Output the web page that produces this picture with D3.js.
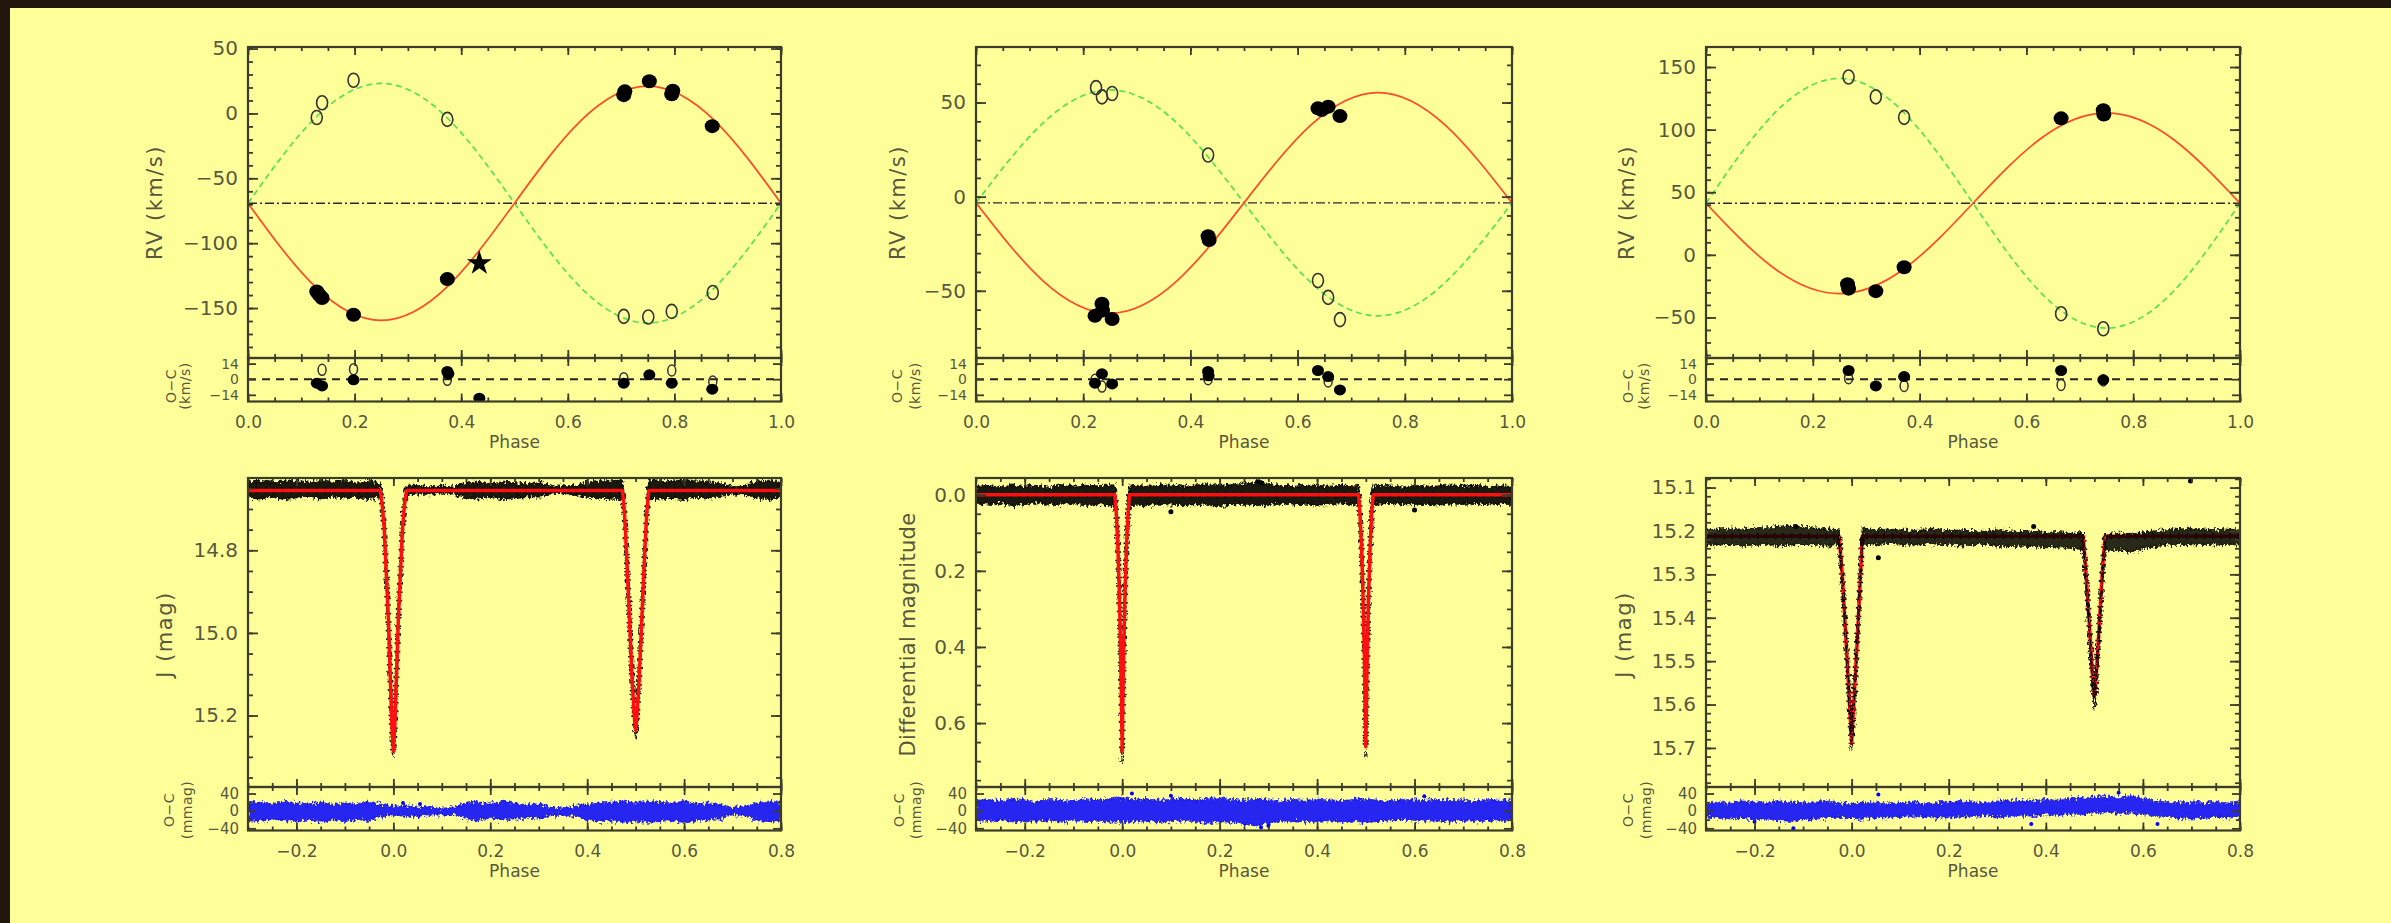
<!DOCTYPE html>
<html><head><meta charset="utf-8">
<script src="https://cdn.jsdelivr.net/npm/d3@7"></script>
<style>
html,body{margin:0;padding:0;background:#ffff99;}
svg{display:block}
</style></head><body><svg id="c" width="2391" height="923"></svg>
<script>
// ================= DATA =================
// --- Radial-velocity panels (top row) ---
const rvCurvePhase = [0, 0.125, 0.25, 0.375, 0.5, 0.625, 0.75, 0.875, 1];
const rvTickMajorX = [0, 0.2, 0.4, 0.6, 0.8, 1.0];
const rvResTicks = [-14, 0, 14];
const rvResDomain = [-20, 19];

// system 1
const rv1Primary   = [-69.2, -133.1, -159.5, -133.1, -69.2, -5.3, 21.1, -5.3, -69.2];
const rv1Secondary = [-69.2, -3.9, 23.1, -3.9, -69.2, -134.5, -161.5, -134.5, -69.2];
const rv1Gamma = -69.2;
const rv1PrimPhase = [0.129, 0.134, 0.139, 0.198, 0.374, 0.705, 0.707, 0.753, 0.795, 0.797, 0.871];
const rv1PrimVel   = [-137.2, -140, -142.3, -155.2, -127.7, 14.1, 17, 24.8, 14.8, 17.5, -9.8];
const rv1SecPhase  = [0.129, 0.139, 0.198, 0.374, 0.705, 0.751, 0.795, 0.872];
const rv1SecVel    = [-3.1, 8.2, 25.6, -4.6, -156.4, -156.9, -152.6, -138];
const rv1StarPhase = [0.434];
const rv1StarVel   = [-115.4];
const rv1PrimResPhase = [0.129, 0.139, 0.198, 0.374, 0.376, 0.434, 0.705, 0.753, 0.795, 0.871];
const rv1PrimRes      = [-3.6, -6, -0.6, 6.9, 4.8, -17, -3.6, 3.9, -3.6, -9];
const rv1SecResPhase  = [0.139, 0.198, 0.374, 0.705, 0.795, 0.872];
const rv1SecRes       = [8.4, 9, -0.6, 0.9, 7.8, -2.1];
const rv1YTicks = [-150, -100, -50, 0, 50];

// system 2
const rv2Primary   = [-3.3, -44.7, -61.9, -44.7, -3.3, 38.1, 55.3, 38.1, -3.3];
const rv2Secondary = [-3.3, 39.1, 56.7, 39.1, -3.3, -45.7, -63.3, -45.7, -3.3];
const rv2Gamma = -3.3;
const rv2PrimPhase = [0.222, 0.235, 0.236, 0.254, 0.433, 0.435, 0.638, 0.645, 0.657, 0.679];
const rv2PrimVel   = [-63.3, -56.9, -60.5, -65, -21, -23, 46.9, 46, 47.8, 42.8];
const rv2SecPhase  = [0.224, 0.235, 0.254, 0.433, 0.638, 0.657, 0.679];
const rv2SecVel    = [57.9, 53, 54.8, 22.1, -44.5, -53.5, -65.3];
const rv2PrimResPhase = [0.222, 0.235, 0.254, 0.433, 0.434, 0.638, 0.657, 0.679];
const rv2PrimRes      = [-3.6, 4.8, -4.2, 6.9, 3, 7.8, 2.4, -9.6];
const rv2SecResPhase  = [0.222, 0.235, 0.433, 0.657];
const rv2SecRes       = [-0.6, -6.6, 0, -2.1];
const rv2YTicks = [-50, 0, 50];

// system 3
const rv3Primary   = [41.2, -9.9, -31.0, -9.9, 41.2, 92.3, 113.4, 92.3, 41.2];
const rv3Secondary = [41.2, 111.7, 140.9, 111.7, 41.2, -29.3, -58.5, -29.3, 41.2];
const rv3Gamma = 41.2;
const rv3PrimPhase = [0.265, 0.267, 0.318, 0.371, 0.665, 0.744, 0.745];
const rv3PrimVel   = [-23.5, -27, -29, -9.9, 109, 115.5, 112];
const rv3SecPhase  = [0.267, 0.318, 0.371, 0.665, 0.744];
const rv3SecVel    = [142, 126.2, 109.8, -47, -59];
const rv3PrimResPhase = [0.267, 0.318, 0.371, 0.665, 0.744];
const rv3PrimRes      = [7.8, -6, 2.4, 7.8, -0.6];
const rv3SecResPhase  = [0.267, 0.371, 0.665, 0.744];
const rv3SecRes       = [0.9, -6, -5.1, -1.2];
const rv3YTicks = [-50, 0, 50, 100, 150];

// --- Light-curve panels (bottom row) ---
const lcTickMajorX = [-0.2, 0.0, 0.2, 0.4, 0.6, 0.8];
const lcResTicks = [-40, 0, 40];
const lcResDomain = [-45, 55];
// phases at which the scatter envelope (mmag) was read
const lcEnvPhase = [-0.3,-0.275,-0.25,-0.225,-0.2,-0.175,-0.15,-0.125,-0.1,-0.075,-0.05,-0.025,0,0.025,0.05,0.075,0.1,0.125,0.15,0.175,0.2,0.225,0.25,0.275,0.3,0.325,0.35,0.375,0.4,0.425,0.45,0.475,0.5,0.525,0.55,0.575,0.6,0.625,0.65,0.675,0.7,0.725,0.75,0.775,0.8];

// system 1 (J)
const lc1ModelPhase = [-0.3,-0.027,-0.023,-0.019,-0.0105,-0.003,0,0.003,0.0105,0.019,0.023,0.027,0.473,0.477,0.481,0.487,0.493,0.498,0.5,0.502,0.507,0.513,0.519,0.523,0.527,0.8];
const lc1ModelMag   = [14.655,14.655,14.69,14.745,14.96,15.225,15.287,15.225,14.96,14.745,14.69,14.655,14.655,14.71,14.80,14.96,15.12,15.215,15.235,15.215,15.12,14.96,14.80,14.71,14.655,14.655];
const lc1EnvHi = [18,20,16,22,18,16,20,15,18,16,22,14,10,12,8,10,6,8,18,20,16,22,18,14,16,8,6,10,16,18,20,22,18,22,20,18,22,16,18,14,8,10,18,22,16];
const lc1EnvLo = [-22,-24,-20,-22,-24,-19,-26,-20,-24,-19,-24,-14,-8,-12,-12,-8,-10,-8,-18,-20,-16,-20,-18,-16,-18,-10,-10,-12,-20,-24,-22,-26,-24,-26,-24,-22,-26,-22,-20,-18,-8,-10,-22,-24,-20];
const lc1YTicks = [14.8, 15.0, 15.2];
const lc1YDomain = [14.625, 15.373];
const lc1OutPhase = [], lc1OutMag = [];
const lc1ResOutPhase = [0.02, 0.055], lc1ResOut = [18, 16];

// system 2 (differential magnitude)
const lc2ModelPhase = [-0.3,-0.015,-0.012,-0.009,-0.006,-0.003,-0.001,0,0.001,0.003,0.006,0.009,0.012,0.015,0.485,0.488,0.491,0.494,0.497,0.499,0.5,0.501,0.503,0.506,0.509,0.512,0.515,0.8];
const lc2ModelMag   = [0,0,0.05,0.13,0.25,0.42,0.58,0.675,0.58,0.42,0.25,0.13,0.05,0,0,0.05,0.13,0.25,0.42,0.57,0.662,0.57,0.42,0.25,0.13,0.05,0,0];
const lc2EnvHi = [24,26,22,28,25,20,26,24,22,27,25,28,30,26,28,24,26,28,25,27,30,26,24,28,25,22,26,24,27,25,23,26,28,24,22,26,25,24,26,23,25,22,26,24,25];
const lc2EnvLo = [-22,-24,-20,-25,-22,-24,-20,-26,-22,-24,-23,-25,-26,-24,-22,-26,-24,-22,-25,-28,-24,-26,-30,-34,-28,-24,-22,-25,-24,-22,-25,-23,-26,-24,-22,-20,-24,-22,-23,-25,-22,-24,-21,-23,-22];
const lc2YTicks = [0.0, 0.2, 0.4, 0.6];
const lc2YDomain = [-0.044, 0.768];
const lc2OutPhase = [0.28, 0.287, 0.1, 0.6], lc2OutMag = [-0.034, -0.03, 0.045, 0.04];
const lc2ResOutPhase = [0.285, 0.3, 0.02, 0.1, 0.62], lc2ResOut = [-38, -34, 40, 35, 34];

// system 3 (J)
const lc3ModelPhase = [-0.3,-0.026,-0.019,-0.0105,-0.003,0,0.003,0.0105,0.017,0.022,0.477,0.483,0.490,0.496,0.5,0.504,0.510,0.516,0.522,0.8];
const lc3ModelMag   = [15.212,15.212,15.305,15.474,15.628,15.69,15.628,15.474,15.33,15.212,15.212,15.30,15.42,15.53,15.582,15.53,15.42,15.30,15.212,15.212];
const lc3EnvHi = [18,20,18,22,20,18,22,20,18,20,22,18,16,18,20,16,18,20,16,18,20,22,20,18,22,24,22,24,26,24,28,30,32,34,30,36,28,24,20,18,20,18,20,18,20];
const lc3EnvLo = [-14,-16,-18,-16,-20,-18,-22,-24,-20,-18,-16,-14,-16,-18,-14,-16,-14,-12,-14,-16,-12,-14,-12,-10,-14,-12,-10,-12,-8,-10,-6,-8,-4,-2,-6,-4,-8,-12,-14,-16,-18,-16,-14,-16,-14];
const lc3YTicks = [15.1, 15.2, 15.3, 15.4, 15.5, 15.6, 15.7];
const lc3YDomain = [15.078, 15.79];
const lc3OutPhase = [0.698, 0.055, 0.375, -0.115], lc3OutMag = [15.085, 15.262, 15.19, 15.19];
const lc3ResOutPhase = [-0.12, 0.055, 0.37, 0.55, -0.2, 0.63], lc3ResOut = [-40, 38, -30, 42, -25, -30];

// ================= LAYOUT / STYLE =================
const FONT = '"DejaVu Sans", "Liberation Sans", sans-serif';
const TXT = '#58583e';
const AX = '#3c3c2a';
const colX = [[248, 781], [976, 1512], [1706, 2240]];
const TOP = {main: [47, 358], res: [358, 401.5]};
const BOT = {main: [478, 787], res: [787, 830.5]};

const svg = d3.select('#c');
const defs = svg.append('defs');
// edge-roughening texture for the dense scatter bands (style only)
const flt = defs.append('filter').attr('id', 'rough')
  .attr('x', '-2%').attr('y', '-60%').attr('width', '104%').attr('height', '220%');
flt.append('feTurbulence').attr('type', 'fractalNoise').attr('baseFrequency', '0.45 0.3')
  .attr('numOctaves', 2).attr('seed', 7).attr('result', 'n');
flt.append('feDisplacementMap').attr('in', 'SourceGraphic').attr('in2', 'n').attr('scale', 9)
  .attr('xChannelSelector', 'R').attr('yChannelSelector', 'G');

svg.append('rect').attr('width', 2391).attr('height', 923).attr('fill', '#ffff99');
svg.append('rect').attr('x', 0).attr('y', 0).attr('width', 2391).attr('height', 8).attr('fill', '#22170c');
svg.append('rect').attr('x', 0).attr('y', 0).attr('width', 10).attr('height', 923).attr('fill', '#22170c');

const stepRange = (a, b, s) => d3.range(Math.round((b - a) / s) + 1).map(i => +(a + i * s).toFixed(5));

let clipN = 0;
function clip(x0, y0, x1, y1) {
  const id = 'cl' + (clipN++);
  defs.append('clipPath').attr('id', id).append('rect')
    .attr('x', x0).attr('y', y0).attr('width', x1 - x0).attr('height', y1 - y0);
  return `url(#${id})`;
}

function frameAxes(xs, ys, o) {
  const [x0, x1] = xs.range();
  const yb = Math.max(...ys.range()), yt = Math.min(...ys.range());
  const g = svg.append('g');
  const add = (axis, tx, ty) => {
    const a = g.append('g').attr('transform', `translate(${tx},${ty})`).call(axis);
    a.select('.domain').remove();
    return a;
  };
  const none = () => '';
  const l = add(d3.axisLeft(ys).tickValues(o.yMajor).tickSize(-o.yLen).tickSizeOuter(0)
      .tickPadding(o.yPad).tickFormat(o.yFmt), x0, 0);
  l.selectAll('text').attr('font-size', o.yFont).attr('font-family', FONT).attr('fill', TXT);
  add(d3.axisRight(ys).tickValues(o.yMajor).tickSize(-o.yLen).tickFormat(none), x1, 0);
  if (o.yMinor) {
    add(d3.axisLeft(ys).tickValues(o.yMinor).tickSize(-o.yLen / 2).tickFormat(none), x0, 0);
    add(d3.axisRight(ys).tickValues(o.yMinor).tickSize(-o.yLen / 2).tickFormat(none), x1, 0);
  }
  add(d3.axisTop(xs).tickValues(o.xMajor).tickSize(-o.xLen).tickFormat(none), 0, yt);
  add(d3.axisTop(xs).tickValues(o.xMinor).tickSize(-o.xLen / 2).tickFormat(none), 0, yt);
  const b = add(d3.axisBottom(xs).tickValues(o.xMajor).tickSize(-o.xLen).tickPadding(14)
      .tickFormat(o.xFmt || none), 0, yb);
  b.selectAll('text').attr('font-size', 17).attr('font-family', FONT).attr('fill', TXT);
  add(d3.axisBottom(xs).tickValues(o.xMinor).tickSize(-o.xLen / 2).tickFormat(none), 0, yb);
  g.selectAll('.tick line').attr('stroke', AX).attr('stroke-width', 1.8);
  g.append('rect').attr('x', x0).attr('y', yt).attr('width', x1 - x0).attr('height', yb - yt)
    .attr('fill', 'none').attr('stroke', AX).attr('stroke-width', 2.2);
}

function vLabel(cx, cy, txt, size, ls) {
  svg.append('text').attr('transform', `translate(${cx},${cy}) rotate(-90)`)
    .attr('text-anchor', 'middle').attr('dominant-baseline', 'central')
    .attr('font-family', FONT).attr('font-size', size).attr('letter-spacing', ls)
    .attr('fill', TXT).text(txt);
}

// ================= RV PANELS =================
function rvPanel(ci, c) {
  const [xl, xr] = colX[ci];
  const x = d3.scaleLinear().domain([0, 1]).range([xl, xr]);
  const y = d3.scaleLinear().domain(c.yDomain).range([TOP.main[1], TOP.main[0]]);
  const yr = d3.scaleLinear().domain(rvResDomain).range([TOP.res[1], TOP.res[0]]);
  const gm = svg.append('g').attr('clip-path', clip(xl, TOP.main[0], xr, TOP.main[1]));
  gm.append('line').attr('x1', x(0)).attr('x2', x(1)).attr('y1', y(c.gamma)).attr('y2', y(c.gamma))
    .attr('stroke', '#2a2a2a').attr('stroke-width', 1.4).attr('stroke-dasharray', '9,3,2,3');
  const line = d3.line().curve(d3.curveNatural).x((d, i) => x(rvCurvePhase[i])).y(d => y(d));
  gm.append('path').datum(c.sec).attr('d', line).attr('fill', 'none')
    .attr('stroke', '#55e055').attr('stroke-width', 1.7).attr('stroke-dasharray', '6,4');
  gm.append('path').datum(c.prim).attr('d', line).attr('fill', 'none')
    .attr('stroke', '#ff4a2a').attr('stroke-width', 1.7);
  gm.append('g').selectAll('ellipse').data(d3.zip(c.secPhase, c.secVel)).join('ellipse')
    .attr('cx', d => x(d[0])).attr('cy', d => y(d[1])).attr('rx', 5.5).attr('ry', 7)
    .attr('fill', 'none').attr('stroke', '#333').attr('stroke-width', 1.6);
  gm.append('g').selectAll('ellipse').data(d3.zip(c.primPhase, c.primVel)).join('ellipse')
    .attr('cx', d => x(d[0])).attr('cy', d => y(d[1])).attr('rx', 7.5).attr('ry', 7)
    .attr('fill', '#000');
  if (c.starPhase) {
    gm.append('g').selectAll('path').data(d3.zip(c.starPhase, c.starVel)).join('path')
      .attr('transform', d => `translate(${x(d[0])},${y(d[1])})`)
      .attr('d', d3.symbol().type(d3.symbolStar).size(190)).attr('fill', '#000');
  }
  // residuals
  const gr = svg.append('g').attr('clip-path', clip(xl, TOP.res[0], xr, TOP.res[1]));
  gr.append('line').attr('x1', x(0)).attr('x2', x(1)).attr('y1', yr(0)).attr('y2', yr(0))
    .attr('stroke', '#222').attr('stroke-width', 2).attr('stroke-dasharray', '8,6');
  gr.append('g').selectAll('ellipse').data(d3.zip(c.secResPhase, c.secRes)).join('ellipse')
    .attr('cx', d => x(d[0])).attr('cy', d => yr(d[1])).attr('rx', 4).attr('ry', 5.5)
    .attr('fill', 'none').attr('stroke', '#333').attr('stroke-width', 1.5);
  gr.append('g').selectAll('ellipse').data(d3.zip(c.primResPhase, c.primRes)).join('ellipse')
    .attr('cx', d => x(d[0])).attr('cy', d => yr(d[1])).attr('rx', 6).attr('ry', 5.5)
    .attr('fill', '#000');
  const fmtInt = d3.format('d');
  frameAxes(x, y, {xMajor: rvTickMajorX, xMinor: stepRange(0, 1, 0.05), xLen: 8,
    yMajor: c.yTicks, yMinor: c.yMinor, yLen: 10, yPad: 10, yFmt: fmtInt, yFont: 20});
  frameAxes(x, yr, {xMajor: rvTickMajorX, xMinor: stepRange(0, 1, 0.05), xLen: 8,
    yMajor: rvResTicks, yLen: 8, yPad: 9, yFmt: fmtInt, yFont: 14, xFmt: d3.format('.1f')});
  svg.append('text').attr('x', (xl + xr) / 2).attr('y', 448).attr('text-anchor', 'middle')
    .attr('font-family', FONT).attr('font-size', 17).attr('fill', TXT).text('Phase');
  vLabel(xl - c.labOff, (TOP.main[0] + TOP.main[1]) / 2, 'RV (km/s)', 21, 1.5);
  vLabel(xl - c.resOff[0], 386, 'O\u2212C', 14, 0.5);
  vLabel(xl - c.resOff[1], 386, '(km/s)', 14, 0.5);
}

rvPanel(0, {yDomain: [-188.5, 51.2], yTicks: rv1YTicks, yMinor: stepRange(-180, 50, 10), gamma: rv1Gamma,
  prim: rv1Primary, sec: rv1Secondary, primPhase: rv1PrimPhase, primVel: rv1PrimVel,
  secPhase: rv1SecPhase, secVel: rv1SecVel, starPhase: rv1StarPhase, starVel: rv1StarVel,
  primResPhase: rv1PrimResPhase, primRes: rv1PrimRes, secResPhase: rv1SecResPhase, secRes: rv1SecRes,
  labOff: 93, resOff: [77, 63]});
rvPanel(1, {yDomain: [-85.7, 79.5], yTicks: rv2YTicks, yMinor: stepRange(-80, 70, 10), gamma: rv2Gamma,
  prim: rv2Primary, sec: rv2Secondary, primPhase: rv2PrimPhase, primVel: rv2PrimVel,
  secPhase: rv2SecPhase, secVel: rv2SecVel,
  primResPhase: rv2PrimResPhase, primRes: rv2PrimRes, secResPhase: rv2SecResPhase, secRes: rv2SecRes,
  labOff: 78, resOff: [79, 61]});
rvPanel(2, {yDomain: [-82.4, 166], yTicks: rv3YTicks, yMinor: stepRange(-80, 160, 10), gamma: rv3Gamma,
  prim: rv3Primary, sec: rv3Secondary, primPhase: rv3PrimPhase, primVel: rv3PrimVel,
  secPhase: rv3SecPhase, secVel: rv3SecVel,
  primResPhase: rv3PrimResPhase, primRes: rv3PrimRes, secResPhase: rv3SecResPhase, secRes: rv3SecRes,
  labOff: 79, resOff: [78, 62]});

// ================= LIGHT-CURVE PANELS =================
function lcPanel(ci, c) {
  const [xl, xr] = colX[ci];
  const x = d3.scaleLinear().domain([-0.3, 0.8]).range([xl, xr]);
  const y = d3.scaleLinear().domain(c.yDomain).range([BOT.main[0], BOT.main[1]]);
  const yr = d3.scaleLinear().domain(lcResDomain).range([BOT.res[1], BOT.res[0]]);
  const model = d3.scaleLinear().domain(c.modelPhase).range(c.modelMag);
  const hiS = d3.scaleLinear().domain(lcEnvPhase).range(c.envHi);
  const loS = d3.scaleLinear().domain(lcEnvPhase).range(c.envLo);
  const pts = Array.from(new Set([...lcEnvPhase, ...c.modelPhase])).sort((a, b) => a - b);
  const gm = svg.append('g').attr('clip-path', clip(xl, BOT.main[0], xr, BOT.main[1]));
  const band = d3.area().x(p => x(p))
    .y0(p => y(model(p) + loS(p) / 1000)).y1(p => y(model(p) + hiS(p) / 1000));
  const mline = d3.line().x((d, i) => x(c.modelPhase[i])).y(d => y(d));
  const drawBand = () => {
    gm.append('path').datum(pts).attr('d', band).attr('fill', '#000').attr('fill-opacity', c.bandOpacity)
      .attr('stroke', '#000').attr('stroke-width', 1.5).attr('stroke-opacity', 0.8)
      .attr('filter', 'url(#rough)');
    gm.append('g').selectAll('circle').data(d3.zip(c.outPhase, c.outMag)).join('circle')
      .attr('cx', d => x(d[0])).attr('cy', d => y(d[1])).attr('r', 2.5).attr('fill', '#000');
  };
  const drawModel = () => {
    gm.append('path').datum(c.modelMag).attr('d', mline).attr('fill', 'none')
      .attr('stroke', '#000').attr('stroke-width', 6).attr('stroke-dasharray', '1.5,7');
    gm.append('path').datum(c.modelMag).attr('d', mline).attr('fill', 'none')
      .attr('stroke', '#ff1010').attr('stroke-width', 3.5).attr('stroke-linejoin', 'round');
  };
  if (c.modelUnder) { drawModel(); drawBand(); } else { drawBand(); drawModel(); }
  // residuals
  const gr = svg.append('g').attr('clip-path', clip(xl, BOT.res[0], xr, BOT.res[1]));
  const rband = d3.area().x(p => x(p)).y0((p, i) => yr(c.envLo[i])).y1((p, i) => yr(c.envHi[i]));
  gr.append('path').datum(lcEnvPhase).attr('d', rband).attr('fill', '#0000ff').attr('fill-opacity', 0.85)
    .attr('stroke', '#0000ff').attr('stroke-width', 1.5).attr('stroke-opacity', 0.6)
    .attr('filter', 'url(#rough)');
  gr.append('g').selectAll('circle').data(d3.zip(c.resOutPhase, c.resOut)).join('circle')
    .attr('cx', d => x(d[0])).attr('cy', d => yr(d[1])).attr('r', 2).attr('fill', '#0000ff');
  const f1 = d3.format('.1f');
  frameAxes(x, y, {xMajor: lcTickMajorX, xMinor: stepRange(-0.3, 0.8, 0.05), xLen: 8,
    yMajor: c.yTicks, yMinor: c.yMinor, yLen: 10, yPad: 10, yFmt: f1, yFont: 20});
  frameAxes(x, yr, {xMajor: lcTickMajorX, xMinor: stepRange(-0.3, 0.8, 0.05), xLen: 8,
    yMajor: lcResTicks, yMinor: [-20, 20], yLen: 8, yPad: 9, yFmt: d3.format('d'), yFont: 15, xFmt: f1});
  svg.append('text').attr('x', (xl + xr) / 2).attr('y', 877).attr('text-anchor', 'middle')
    .attr('font-family', FONT).attr('font-size', 17).attr('fill', TXT).text('Phase');
  vLabel(xl - c.labOff, (BOT.main[0] + BOT.main[1]) / 2 + 2, c.ylabel, 21, c.ls);
  vLabel(xl - c.resOff[0], 810, 'O\u2212C', 14, 0.5);
  vLabel(xl - c.resOff[1], 810, '(mmag)', 14, 0.5);
}

lcPanel(0, {yDomain: lc1YDomain, yTicks: lc1YTicks, yMinor: stepRange(14.65, 15.35, 0.05),
  modelPhase: lc1ModelPhase, modelMag: lc1ModelMag, envHi: lc1EnvHi, envLo: lc1EnvLo,
  outPhase: lc1OutPhase, outMag: lc1OutMag, resOutPhase: lc1ResOutPhase, resOut: lc1ResOut,
  bandOpacity: 0.9, modelUnder: false, ylabel: 'J (mag)', ls: 1.5, labOff: 83, resOff: [79, 61]});
lcPanel(1, {yDomain: lc2YDomain, yTicks: lc2YTicks, yMinor: stepRange(0, 0.75, 0.05),
  modelPhase: lc2ModelPhase, modelMag: lc2ModelMag, envHi: lc2EnvHi, envLo: lc2EnvLo,
  outPhase: lc2OutPhase, outMag: lc2OutMag, resOutPhase: lc2ResOutPhase, resOut: lc2ResOut,
  bandOpacity: 0.9, modelUnder: false, ylabel: 'Differential magnitude', ls: 0.3, labOff: 68, resOff: [77, 60]});
lcPanel(2, {yDomain: lc3YDomain, yTicks: lc3YTicks, yMinor: stepRange(15.08, 15.78, 0.02),
  modelPhase: lc3ModelPhase, modelMag: lc3ModelMag, envHi: lc3EnvHi, envLo: lc3EnvLo,
  outPhase: lc3OutPhase, outMag: lc3OutMag, resOutPhase: lc3ResOutPhase, resOut: lc3ResOut,
  bandOpacity: 0.84, modelUnder: true, ylabel: 'J (mag)', ls: 1.5, labOff: 82, resOff: [78, 60]});
</script></body></html>
